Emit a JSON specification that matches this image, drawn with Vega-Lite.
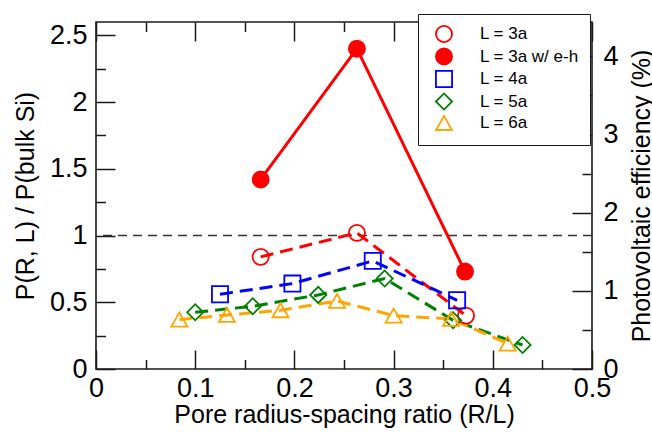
{
  "$schema": "https://vega.github.io/schema/vega-lite/v6.json",
  "width": 496,
  "height": 347,
  "autosize": {"type": "none"},
  "padding": {"left": 96, "top": 22, "right": 60, "bottom": 64},
  "background": "white",
  "config": {
    "view": {"stroke": "#1a1a1a", "strokeWidth": 1.6},
    "font": "Liberation Sans",
    "axis": {
      "domain": false, "grid": false,
      "labelFont": "Liberation Sans", "titleFont": "Liberation Sans",
      "labelColor": "black", "titleColor": "black",
      "tickColor": "#1a1a1a", "tickWidth": 1.5,
      "labelFontSize": 27, "titleFontSize": 25, "titleFontWeight": "normal",
      "labelOverlap": false, "labelFlush": false
    },
    "legend": {
      "labelFont": "Liberation Sans", "labelFontSize": 17, "labelColor": "black",
      "symbolStrokeWidth": 1.8
    }
  },
  "data": {
    "values": [
      {"s": "L = 3a", "r": 0.166, "p": 0.84},
      {"s": "L = 3a", "r": 0.263, "p": 1.02},
      {"s": "L = 3a", "r": 0.373, "p": 0.40},
      {"s": "L = 3a w/ e-h", "r": 0.166, "p": 1.42},
      {"s": "L = 3a w/ e-h", "r": 0.263, "p": 2.40},
      {"s": "L = 3a w/ e-h", "r": 0.372, "p": 0.73},
      {"s": "L = 4a", "r": 0.125, "p": 0.56},
      {"s": "L = 4a", "r": 0.198, "p": 0.64},
      {"s": "L = 4a", "r": 0.279, "p": 0.81},
      {"s": "L = 4a", "r": 0.364, "p": 0.515},
      {"s": "L = 5a", "r": 0.100, "p": 0.425},
      {"s": "L = 5a", "r": 0.158, "p": 0.47},
      {"s": "L = 5a", "r": 0.224, "p": 0.555},
      {"s": "L = 5a", "r": 0.291, "p": 0.678},
      {"s": "L = 5a", "r": 0.360, "p": 0.365},
      {"s": "L = 5a", "r": 0.430, "p": 0.18},
      {"s": "L = 6a", "r": 0.084, "p": 0.37},
      {"s": "L = 6a", "r": 0.132, "p": 0.405},
      {"s": "L = 6a", "r": 0.186, "p": 0.44},
      {"s": "L = 6a", "r": 0.243, "p": 0.51},
      {"s": "L = 6a", "r": 0.300, "p": 0.40},
      {"s": "L = 6a", "r": 0.358, "p": 0.375},
      {"s": "L = 6a", "r": 0.415, "p": 0.19}
    ]
  },
  "encoding": {
    "x": {"field": "r", "type": "quantitative", "scale": {"domain": [0, 0.5], "nice": false, "zero": false}},
    "y": {"field": "p", "type": "quantitative", "scale": {"domain": [0, 2.6], "nice": false, "zero": false}}
  },
  "layer": [
    {
      "mark": {"type": "point", "opacity": 0},
      "encoding": {
        "x": {"field": "r", "type": "quantitative",
          "axis": {"orient": "bottom", "values": [0, 0.1, 0.2, 0.3, 0.4, 0.5], "format": "~g", "tickSize": -19, "labelPadding": 25, "title": "Pore radius-spacing ratio (R/L)", "titlePadding": 1}},
        "y": {"field": "p", "type": "quantitative",
          "axis": {"orient": "left", "values": [0, 0.5, 1, 1.5, 2, 2.5], "format": "~g", "tickSize": -19, "labelPadding": 28, "title": "P(R, L) / P(bulk Si)", "titlePadding": 11}}
      }
    },
    {
      "mark": {"type": "point", "opacity": 0},
      "encoding": {
        "x": {"field": "r", "type": "quantitative",
          "axis": {"orient": "bottom", "values": [0.05, 0.15, 0.25, 0.35, 0.45], "tickSize": -9.5, "labels": false, "title": null}},
        "y": {"field": "p", "type": "quantitative",
          "axis": {"orient": "left", "values": [0.25, 0.75, 1.25, 1.75, 2.25], "tickSize": -9.5, "labels": false, "title": null}}
      }
    },
    {
      "mark": {"type": "point", "opacity": 0},
      "encoding": {
        "x": {"field": "r", "type": "quantitative",
          "axis": {"orient": "top", "values": [0, 0.1, 0.2, 0.3, 0.4, 0.5], "tickSize": -19, "labels": false, "title": null}},
        "y": {"field": "p", "type": "quantitative",
          "axis": {"orient": "right", "values": [0, 0.5856, 1.1712, 1.7568, 2.3423], "labelExpr": "format(round(datum.value * 1.7077), 'd')", "tickSize": -20, "labelPadding": 31, "title": "Photovoltaic efficiency (%)", "titleAngle": 270, "titleBaseline": "top", "titlePadding": 11}}
      }
    },
    {
      "mark": {"type": "point", "opacity": 0},
      "encoding": {
        "x": {"field": "r", "type": "quantitative",
          "axis": {"orient": "top", "values": [0.05, 0.15, 0.25, 0.35, 0.45], "tickSize": -9.5, "labels": false, "title": null}},
        "y": {"field": "p", "type": "quantitative",
          "axis": {"orient": "right", "values": [0.2928, 0.8784, 1.464, 2.0495], "tickSize": -10, "labels": false, "title": null}}
      }
    },
    {
      "data": {"values": [{"p": 1}]},
      "mark": {"type": "rule", "color": "#333333", "strokeWidth": 1.5, "strokeDash": [9, 6]},
      "encoding": {
        "x": null,
        "y": {"field": "p", "type": "quantitative", "axis": null}
      }
    },
    {
      "transform": [{"filter": "datum.s !== 'L = 3a w/ e-h'"}],
      "mark": {"type": "line", "strokeWidth": 3, "strokeDash": [13, 7]},
      "encoding": {
        "x": {"field": "r", "type": "quantitative", "axis": null},
        "y": {"field": "p", "type": "quantitative", "axis": null},
        "color": {"field": "s", "type": "nominal", "scale": {"domain": ["L = 6a", "L = 5a", "L = 4a", "L = 3a w/ e-h", "L = 3a"], "range": ["#ffa500", "#008000", "#0000ff", "#ff0000", "#ff0000"]}, "legend": null}
      }
    },
    {
      "transform": [{"filter": "datum.s === 'L = 3a w/ e-h'"}],
      "mark": {"type": "line", "strokeWidth": 3},
      "encoding": {
        "x": {"field": "r", "type": "quantitative", "axis": null},
        "y": {"field": "p", "type": "quantitative", "axis": null},
        "color": {"field": "s", "type": "nominal", "legend": null}
      }
    },
    {
      "mark": {"type": "point", "filled": true, "strokeWidth": 1.8, "opacity": 1, "size": 260},
      "encoding": {
        "x": {"field": "r", "type": "quantitative", "axis": null},
        "y": {"field": "p", "type": "quantitative", "axis": null},
        "stroke": {"field": "s", "type": "nominal", "scale": {"domain": ["L = 3a", "L = 3a w/ e-h", "L = 4a", "L = 5a", "L = 6a"], "range": ["#ff0000", "#ff0000", "#0000ff", "#008000", "#ffa500"]}},
        "fill": {"field": "s", "type": "nominal", "scale": {"domain": ["L = 3a", "L = 3a w/ e-h", "L = 4a", "L = 5a", "L = 6a"], "range": ["transparent", "#ff0000", "transparent", "transparent", "transparent"]}},
        "shape": {"field": "s", "type": "nominal", "scale": {"domain": ["L = 3a", "L = 3a w/ e-h", "L = 4a", "L = 5a", "L = 6a"], "range": ["circle", "circle", "square", "diamond", "triangle-up"]},
          "legend": {"title": null, "orient": "none", "legendX": 322, "legendY": -8, "padding": 11, "symbolOffset": 6, "labelOffset": 27, "rowPadding": -1.5, "strokeColor": "#1a1a1a", "fillColor": "white", "symbolSize": 260}}
      }
    }
  ],
  "resolve": {"axis": {"x": "independent", "y": "independent"}}
}
